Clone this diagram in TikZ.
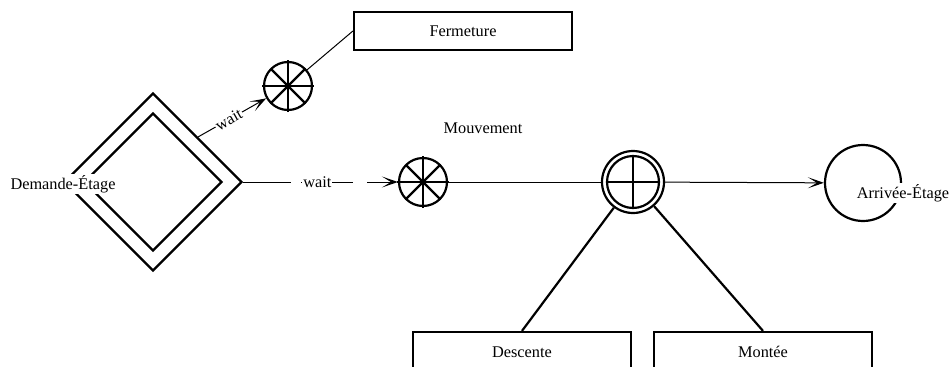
\documentclass[tikz,border=0pt]{standalone}
\usepackage{fontspec}
\setmainfont{Liberation Serif}
\usetikzlibrary{shapes.geometric,arrows.meta}
\begin{document}
\begin{tikzpicture}[x=1pt,y=-1pt,
  font=\fontsize{16.3}{19}\selectfont,
  thickline/.style={line width=2.2pt},
  conn/.style={line width=1pt},
  tipped/.style={-{Stealth[length=16pt,width=11pt,inset=9pt,line width=1.2pt]}},
  box/.style={draw,thickline,minimum width=218pt,minimum height=38pt,inner sep=0pt},
  waitc/.style={circle,draw,thickline,minimum size=48pt,inner sep=0pt},
  lbl/.style={fill=white,inner sep=1pt}
]
\path[use as bounding box] (0,0) rectangle (951,367);
\clip (0,0) rectangle (951,367);

% nodes
\node[diamond,draw,thickline,minimum width=178pt,minimum height=178pt,inner sep=0pt] (dem) at (153,182) {};
\node[diamond,draw,thickline,minimum width=138pt,minimum height=138pt,inner sep=0pt] (demin) at (153,182) {};
\node[waitc] (c1) at (288,86) {};
\node[waitc] (c2) at (423,182) {};
\node[box] (ferm) at (463,31) {Fermeture};
\node[circle,draw,thickline,minimum size=62pt,inner sep=0pt] (mv) at (633,182) {};
\node[circle,draw,thickline,minimum size=76pt,inner sep=0pt] (arr) at (863,183) {};
\node[box] (desc) at (522,351) {};
\node[box] (mont) at (763,351) {};
\node at (522,352) (desct) {Descente};
\node at (763,352) (montt) {Montée};
\node (mvt) at (483,128) {Mouvement};

% spokes
\foreach \c in {c1,c2}{
  \draw[thickline] ([xshift=-26pt]\c.center) -- ([xshift=26pt]\c.center);
  \draw[thickline] ([yshift=-26pt]\c.center) -- ([yshift=26pt]\c.center);
  \draw[thickline] ([shift={(-17pt,-17pt)}]\c.center) -- ([shift={(17pt,17pt)}]\c.center);
  \draw[thickline] ([shift={(-17pt,17pt)}]\c.center) -- ([shift={(17pt,-17pt)}]\c.center);
}
\draw[thickline] (mv.center) circle[radius=26pt];
\draw[thickline] ([xshift=-26pt]mv.center) -- ([xshift=26pt]mv.center);
\draw[thickline] ([yshift=-26pt]mv.center) -- ([yshift=26pt]mv.center);

% connectors
\draw[conn,tipped] (dem.north east) -- node[lbl,sloped,pos=0.45] {wait} (c1);
\draw[conn] (c1) -- (ferm.west);
\draw[conn,tipped,dash pattern=on 48pt off 10pt on 52pt off 14pt on 60pt] (dem.east) -- node[lbl,pos=0.48] {wait} (c2);
\draw[conn] (c2) -- (mv);
\draw[conn,tipped] (mv) -- (arr);
\draw[thickline] (mv) -- (desc.north);
\draw[thickline] (mv) -- (mont.north);

% labels over shapes
\node[lbl] (demt) at (63,184) {Demande-Étage};
\node[lbl] (arrt) at (903,193) {Arrivée-Étage};
\end{tikzpicture}
\end{document}
